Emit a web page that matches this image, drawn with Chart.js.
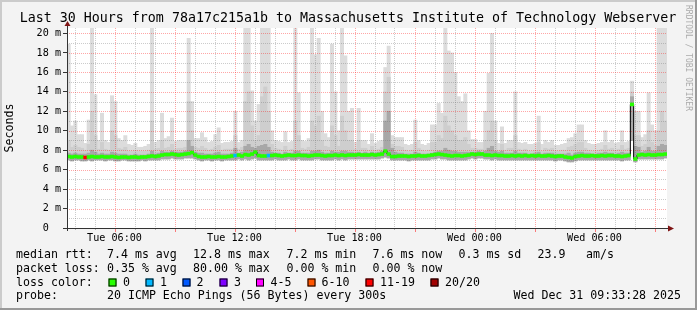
<!DOCTYPE html>
<html>
<head>
<meta charset="utf-8">
<title>Smokeping - 78a17c215a1b to MIT Webserver</title>
<script src="https://cdn.jsdelivr.net/npm/chart.js@4.4.1/dist/chart.umd.min.js"></script>
<style>
  html, body { margin: 0; padding: 0; background: #f3f3f3; }
  canvas { display: block; }
</style>
</head>
<body>
<canvas id="smoke" width="697" height="310"></canvas>
<script>
// Time window (hours since Tue 00:00), 10 minute slots
const X_START = 3.625;
const X_END = 33.625;
const Y_MAX = 20.56;

// Axis ticks
const xTickHours = [6, 12, 18, 24, 30];
const xTickLabels = ['Tue 06:00', 'Tue 12:00', 'Tue 18:00', 'Wed 00:00', 'Wed 06:00'];
const yTicks = [0, 2, 4, 6, 8, 10, 12, 14, 16, 18, 20];
const yTickLabels = ['0  ', '2 m', '4 m', '6 m', '8 m', '10 m', '12 m', '14 m', '16 m', '18 m', '20 m'];

// Median rtt per slot (ms)
const median = [
  7.35, 7.3, 7.35, 7.3, 7.3, 7.25, 7.3, 7.35, 7.3, 7.3,
  7.35, 7.3, 7.3, 7.35, 7.3, 7.25, 7.3, 7.3, 7.25, 7.3,
  7.3, 7.25, 7.3, 7.3, 7.35, 7.4, 7.35, 7.4, 7.5, 7.55,
  7.55, 7.6, 7.55, 7.5, 7.55, 7.6, 7.65, 7.75, 7.5, 7.35,
  7.3, 7.3, 7.35, 7.3, 7.3, 7.35, 7.3, 7.3, 7.35, 7.4,
  7.45, 7.5, 7.4, 7.55, 7.5, 7.6, 7.8, 7.45, 7.4, 7.4,
  7.45, 7.45, 7.5, 7.45, 7.4, 7.45, 7.5, 7.45, 7.45, 7.5,
  7.45, 7.45, 7.4, 7.45, 7.5, 7.5, 7.45, 7.4, 7.45, 7.45,
  7.5, 7.45, 7.5, 7.45, 7.5, 7.5, 7.5, 7.55, 7.5, 7.5,
  7.5, 7.55, 7.5, 7.55, 7.6, 7.9, 7.6, 7.35, 7.35, 7.4,
  7.4, 7.4, 7.35, 7.4, 7.4, 7.45, 7.4, 7.4, 7.45, 7.5,
  7.55, 7.6, 7.55, 7.5, 7.45, 7.4, 7.45, 7.45, 7.4, 7.45,
  7.5, 7.6, 7.55, 7.6, 7.6, 7.5, 7.5, 7.45, 7.5, 7.45,
  7.45, 7.4, 7.4, 7.45, 7.4, 7.45, 7.4, 7.45, 7.4, 7.45,
  7.4, 7.45, 7.4, 7.4, 7.45, 7.4, 7.35, 7.4, 7.4, 7.3,
  7.25, 7.2, 7.35, 7.4, 7.45, 7.4, 7.4, 7.45, 7.4, 7.4,
  7.45, 7.4, 7.45, 7.45, 7.4, 7.4, 7.35, 7.4, 7.45, 12.7,
  7.1, 7.5, 7.55, 7.5, 7.55, 7.5, 7.5, 7.55, 7.55, 7.6
];

// Smoke: lowest ping, inner (dark) band top, middle band top, highest ping (ms)
const smokeLo = [
  7.0, 6.9, 7.0, 7.0, 6.9, 6.9, 7.0, 6.9, 7.0, 7.0,
  7.0, 6.9, 7.0, 7.0, 6.9, 6.9, 7.0, 7.0, 6.9, 6.9,
  6.9, 6.9, 7.0, 6.9, 7.0, 7.0, 7.0, 7.0, 7.1, 7.1,
  7.1, 7.2, 7.1, 7.1, 7.1, 7.2, 7.2, 7.2, 7.1, 7.0,
  6.9, 7.0, 7.0, 6.9, 7.0, 7.0, 6.9, 7.0, 7.0, 7.0,
  7.0, 7.1, 7.0, 7.1, 7.0, 7.1, 7.2, 7.0, 7.0, 7.0,
  7.0, 7.0, 7.1, 7.0, 7.0, 7.0, 7.1, 7.0, 7.0, 7.1,
  7.0, 7.0, 7.0, 7.0, 7.1, 7.1, 7.0, 7.0, 7.0, 7.0,
  7.1, 7.0, 7.1, 7.0, 7.1, 7.1, 7.1, 7.1, 7.1, 7.1,
  7.1, 7.1, 7.1, 7.1, 7.2, 7.3, 7.2, 7.0, 7.0, 7.0,
  7.0, 7.0, 6.9, 7.0, 7.0, 7.0, 7.0, 7.0, 7.0, 7.1,
  7.1, 7.2, 7.1, 7.1, 7.0, 7.0, 7.0, 7.0, 7.0, 7.0,
  7.1, 7.2, 7.1, 7.2, 7.2, 7.1, 7.1, 7.0, 7.1, 7.0,
  7.0, 7.0, 7.0, 7.0, 7.0, 7.0, 7.0, 7.0, 7.0, 7.0,
  7.0, 7.0, 7.0, 7.0, 7.0, 7.0, 6.9, 7.0, 7.0, 6.9,
  6.8, 6.8, 6.9, 7.0, 7.0, 7.0, 7.0, 7.0, 7.0, 7.0,
  7.0, 7.0, 7.0, 7.0, 7.0, 7.0, 6.9, 7.0, 7.0, 9.0,
  6.8, 7.1, 7.1, 7.1, 7.1, 7.1, 7.1, 7.1, 7.1, 7.2
];

const smokeInner = [
  7.7, 7.6, 7.7, 7.6, 7.6, 7.6, 7.7, 8.0, 7.8, 7.6,
  7.7, 7.6, 7.6, 7.8, 7.7, 7.6, 7.6, 7.6, 7.5, 7.5,
  7.6, 7.5, 7.5, 7.5, 7.6, 7.9, 7.6, 7.7, 7.9, 7.8,
  7.8, 7.9, 7.8, 7.8, 7.8, 7.9, 9.0, 8.4, 7.8, 7.7,
  7.7, 7.6, 7.6, 7.6, 7.7, 7.8, 7.6, 7.6, 7.6, 7.7,
  8.2, 7.7, 7.8, 8.4, 8.6, 8.3, 8.2, 8.4, 8.5, 8.6,
  8.3, 7.8, 7.7, 7.7, 7.6, 7.8, 7.7, 7.7, 7.9, 7.9,
  7.7, 7.7, 7.7, 7.9, 7.9, 8.0, 7.8, 7.7, 7.7, 7.9,
  7.8, 7.8, 7.9, 7.9, 7.8, 7.8, 7.7, 7.8, 7.7, 7.8,
  7.7, 7.8, 7.7, 7.8, 7.9, 11.0, 12.0, 8.2, 7.8, 7.7,
  7.7, 7.6, 7.6, 7.6, 7.8, 7.7, 7.6, 7.6, 7.6, 7.7,
  7.8, 7.9, 7.9, 8.2, 8.0, 7.9, 7.9, 7.8, 7.8, 7.8,
  7.8, 7.8, 7.8, 7.9, 7.8, 7.9, 8.2, 8.4, 7.9, 7.8,
  7.9, 7.7, 7.7, 7.7, 7.9, 7.7, 7.7, 7.7, 7.6, 7.6,
  7.7, 7.8, 7.6, 7.7, 7.7, 7.7, 7.6, 7.6, 7.6, 7.6,
  7.7, 7.5, 7.7, 7.8, 7.8, 7.7, 7.7, 7.6, 7.6, 7.7,
  7.7, 7.8, 7.7, 7.7, 7.6, 7.7, 7.8, 7.7, 7.7, 13.5,
  8.4, 8.3, 7.8, 7.9, 8.3, 7.9, 7.9, 8.4, 8.6, 8.5
];

const smokeMid = [
  9.0, 8.3, 8.5, 8.3, 8.2, 8.0, 8.6, 12.0, 9.5, 8.1,
  8.8, 8.1, 8.0, 10.0, 9.5, 8.2, 8.1, 8.3, 7.9, 7.9,
  8.0, 7.9, 7.9, 7.9, 8.0, 11.0, 8.1, 8.2, 9.0, 8.2,
  8.3, 8.6, 8.1, 8.2, 8.2, 8.3, 13.0, 10.0, 8.3, 8.2,
  8.4, 8.2, 8.0, 8.1, 8.3, 8.5, 8.0, 8.1, 8.1, 8.1,
  9.5, 8.1, 8.3, 13.0, 14.0, 10.5, 9.0, 9.5, 13.5, 14.5,
  12.0, 8.6, 8.2, 8.1, 8.0, 8.4, 8.0, 8.1, 11.0, 9.5,
  8.2, 8.1, 8.3, 11.0, 10.5, 11.5, 9.0, 8.4, 8.3, 10.5,
  9.5, 8.4, 11.5, 10.0, 9.0, 9.0, 8.1, 9.0, 8.2, 8.2,
  8.0, 8.4, 8.0, 8.1, 8.3, 14.0, 15.5, 8.6, 8.4, 8.4,
  8.3, 8.0, 7.9, 8.0, 8.8, 8.2, 8.0, 7.9, 8.0, 8.8,
  8.8, 9.5, 9.2, 11.5, 10.5, 10.0, 9.5, 9.0, 9.0, 9.3,
  8.6, 8.2, 8.2, 8.1, 8.1, 9.0, 10.0, 11.0, 9.0, 8.0,
  8.6, 8.0, 8.2, 8.2, 9.5, 8.1, 8.0, 8.1, 7.9, 7.9,
  8.0, 8.8, 7.9, 8.2, 8.1, 8.2, 7.9, 7.9, 8.0, 8.0,
  8.3, 8.4, 8.6, 8.8, 8.8, 8.2, 8.0, 7.9, 7.9, 8.0,
  8.1, 8.5, 8.1, 8.2, 8.0, 8.1, 8.5, 8.1, 8.2, 14.0,
  9.5, 9.5, 8.4, 8.6, 10.0, 8.8, 8.5, 10.0, 12.0, 11.0
];

const smokeHi = [
  18.9, 10.5, 11.0, 9.6, 9.6, 8.7, 11.1, 22, 13.7, 9.0,
  11.8, 9.0, 8.8, 13.6, 13.0, 9.2, 9.0, 9.5, 8.6, 8.5,
  8.7, 8.3, 8.3, 8.4, 8.6, 22, 8.8, 9.0, 11.8, 9.2,
  9.4, 11.3, 8.9, 9.0, 9.0, 9.0, 19.5, 13.0, 9.2, 9.2,
  9.8, 9.3, 8.8, 8.9, 9.6, 10.3, 8.7, 8.8, 8.8, 8.9,
  12.0, 8.8, 9.0, 22, 22, 14.1, 11.0, 12.7, 22, 22,
  22, 10.0, 9.0, 8.9, 8.8, 9.9, 8.8, 8.9, 22, 13.9,
  9.0, 8.9, 9.2, 22, 17.8, 19.5, 12.0, 9.7, 9.3, 18.9,
  14.0, 10.0, 22, 17.7, 12.0, 12.3, 8.8, 12.3, 9.0, 9.0,
  8.6, 9.7, 8.7, 8.9, 9.0, 16.5, 18.7, 9.5, 9.3, 9.3,
  9.3, 8.6, 8.5, 8.6, 11.1, 9.0, 8.6, 8.5, 8.7, 10.6,
  10.6, 12.8, 11.8, 22, 18.2, 18.0, 16.0, 13.5, 13.0, 13.8,
  10.0, 9.1, 9.1, 8.8, 8.8, 12.0, 15.9, 20.0, 11.0, 8.7,
  10.4, 8.7, 9.0, 9.0, 14.0, 8.8, 8.7, 8.8, 8.6, 8.6,
  8.7, 11.5, 8.6, 9.0, 8.8, 9.0, 8.5, 8.5, 8.6, 8.7,
  9.2, 9.3, 9.7, 10.6, 10.6, 9.0, 8.7, 8.6, 8.6, 8.7,
  8.8, 10.0, 8.8, 9.0, 8.7, 8.8, 10.0, 8.8, 8.9, 15.1,
  12.0, 12.0, 9.3, 9.6, 13.9, 10.6, 10.0, 22, 22, 22
];

// Slots with packet loss (index, lost pings of 20)
const lossSlots = [5, 50, 60];
const lossCounts = [16, 1, 1];

// Loss colour legend
const lossLabels = ['0', '1', '2', '3', '4-5', '6-10', '11-19', '20/20'];
const lossColors = ['#26ff00', '#00b8ff', '#0059ff', '#7e00ff', '#ff00ff', '#ff5500', '#ff0000', '#a10000'];
const lossLimits = [0, 1, 2, 3, 5, 10, 19, 20];

const statsRtt = ['7.4 ms avg', '12.8 ms max', '7.2 ms min', '7.6 ms now', '0.3 ms sd', '23.9', 'am/s'];
const statsLoss = ['0.35 % avg', '80.00 % max', '0.00 % min', '0.00 % now'];
const probeText = '20 ICMP Echo Pings (56 Bytes) every 300s';
const stampText = 'Wed Dec 31 09:33:28 2025';
const titleText = 'Last 30 Hours from 78a17c215a1b to Massachusetts Institute of Technology Webserver';

const MONO = '"DejaVu Sans Mono", "Liberation Mono", monospace';

function lossColor(n) {
  for (let k = 0; k < lossLimits.length; k++) {
    if (n <= lossLimits[k]) return lossColors[k];
  }
  return lossColors[lossColors.length - 1];
}

const slotX = median.map((_, i) => X_START + (i + 0.5) / 6);
const slotLoss = median.map(() => 0);
lossSlots.forEach((s, k) => { slotLoss[s] = lossCounts[k]; });

function band(lo, hi) {
  return lo.map((v, i) => ({ x: slotX[i], y: [v, hi[i]] }));
}

function barSet(data, color, order) {
  return {
    type: 'bar', data, backgroundColor: color, order,
    grouped: false, barPercentage: 1, categoryPercentage: 1, borderWidth: 0
  };
}

function xPix(scale, h) { return Math.round(scale.getPixelForValue(h)) + 0.5; }
function yPix(scale, v) { return Math.round(scale.getPixelForValue(v)) + 0.5; }

// background, frame, grid, axes and legend texts
const rrdLook = {
  id: 'rrdLook',
  beforeDraw(chart) {
    const { ctx, chartArea: a, width, height } = chart;
    ctx.save();
    ctx.fillStyle = '#f3f3f3';
    ctx.fillRect(0, 0, width, height);
    ctx.fillStyle = '#cbcbcb';
    ctx.fillRect(0, 0, width, 2);
    ctx.fillRect(0, 0, 2, height);
    ctx.fillStyle = '#999999';
    ctx.fillRect(0, height - 2, width, 2);
    ctx.fillRect(width - 2, 0, 2, height);
    ctx.fillStyle = '#ffffff';
    ctx.fillRect(a.left, a.top, a.right - a.left, a.bottom - a.top);
    ctx.restore();
  },
  beforeDatasetDraw(chart, args) {
    if (args.index !== 1) return;
    const { ctx, chartArea: a } = chart;
    const xs = chart.scales.x, ys = chart.scales.y;
    ctx.save();
    ctx.lineWidth = 1;
    ctx.setLineDash([1, 1]);
    for (let h = Math.ceil(X_START); h <= X_END; h++) {
      const px = xPix(xs, h);
      ctx.strokeStyle = h % 3 === 0 ? 'rgba(255,0,0,0.35)' : 'rgba(110,110,110,0.35)';
      ctx.beginPath(); ctx.moveTo(px, a.top); ctx.lineTo(px, a.bottom); ctx.stroke();
    }
    for (let v = 1; v <= 20; v++) {
      const py = yPix(ys, v);
      ctx.strokeStyle = v % 2 === 0 ? 'rgba(255,0,0,0.35)' : 'rgba(110,110,110,0.35)';
      ctx.beginPath(); ctx.moveTo(a.left, py); ctx.lineTo(a.right, py); ctx.stroke();
    }
    ctx.restore();
  },
  afterDraw(chart) {
    const { ctx, chartArea: a } = chart;
    const xs = chart.scales.x;
    ctx.save();
    // small ticks under the time axis
    for (let h = Math.ceil(X_START); h <= X_END; h++) {
      const px = xPix(xs, h);
      ctx.strokeStyle = h % 3 === 0 ? 'rgba(255,0,0,0.5)' : 'rgba(110,110,110,0.5)';
      ctx.beginPath(); ctx.moveTo(px, a.bottom); ctx.lineTo(px, a.bottom + (h % 3 === 0 ? 4 : 2)); ctx.stroke();
    }
    // axes
    const ax = a.left + 0.5, ay = a.bottom + 0.5;
    ctx.strokeStyle = '#333333';
    ctx.lineWidth = 1;
    ctx.beginPath();
    ctx.moveTo(ax, a.bottom + 3); ctx.lineTo(ax, a.top - 3);
    ctx.moveTo(a.left - 4, ay); ctx.lineTo(a.right + 2, ay);
    ctx.stroke();
    ctx.fillStyle = '#7f1515';
    ctx.beginPath();
    ctx.moveTo(ax, a.top - 7); ctx.lineTo(ax - 3, a.top - 2); ctx.lineTo(ax + 3, a.top - 2); ctx.closePath();
    ctx.fill();
    ctx.beginPath();
    ctx.moveTo(a.right + 7, ay); ctx.lineTo(a.right + 1, ay - 3); ctx.lineTo(a.right + 1, ay + 3); ctx.closePath();
    ctx.fill();

    // title
    ctx.fillStyle = '#000';
    ctx.textBaseline = 'middle';
    ctx.textAlign = 'center';
    ctx.font = '13.3px ' + MONO;
    ctx.fillText(titleText, 348, 19);

    // y axis title
    ctx.font = '11.6px ' + MONO;
    ctx.save();
    ctx.translate(10, 128);
    ctx.rotate(-Math.PI / 2);
    ctx.fillText('Seconds', 0, 0);
    ctx.restore();

    // legend
    ctx.textAlign = 'left';
    const col = [107, 193, 286.5, 372.5, 458.5, 537.5, 586];
    ctx.fillText('median rtt:', 16, 255);
    statsRtt.forEach((t, k) => ctx.fillText(t, col[k], 255));
    ctx.fillText('packet loss:', 16, 268.5);
    statsLoss.forEach((t, k) => ctx.fillText(t, col[k], 268.5));
    ctx.fillText('loss color:', 16, 282.5);
    const boxX = [108.5, 145.5, 182.5, 219.5, 256, 307.5, 365.5, 430.5];
    const labX = [123, 160, 196.5, 234, 270.5, 321.5, 380, 445];
    lossLabels.forEach((t, k) => {
      ctx.fillStyle = lossColors[k];
      ctx.fillRect(boxX[k], 278.5, 8, 8);
      ctx.strokeStyle = '#000';
      ctx.strokeRect(boxX[k] + 0.5, 279, 7, 7);
      ctx.fillStyle = '#000';
      ctx.fillText(t, labX[k], 282.5);
    });
    ctx.fillText('probe:', 16, 296);
    ctx.fillText(probeText, 107, 296);
    ctx.textAlign = 'right';
    ctx.fillText(stampText, 681, 296);

    // watermark
    ctx.fillStyle = '#ababab';
    ctx.font = '8px ' + MONO;
    ctx.textAlign = 'left';
    ctx.translate(688, 5);
    ctx.rotate(Math.PI / 2);
    ctx.fillText('RRDTOOL / TOBI OETIKER', 0, 0);
    ctx.restore();
  }
};

const axisFont = { family: MONO, size: 10.15 };

new Chart(document.getElementById('smoke'), {
  type: 'bar',
  data: {
    datasets: [
      barSet(median.map((m, i) => ({ x: slotX[i], y: [m - 0.15, m + 0.15] })),
        slotLoss.map(lossColor), 0),
      {
        type: 'line',
        data: median.map((m, i) => ({ x: slotX[i], y: m })),
        borderColor: '#000000', borderWidth: 1, pointRadius: 0,
        stepped: 'middle', order: 1
      },
      barSet(band(smokeLo, smokeInner), '#a8a8a8', 2),
      barSet(band(smokeLo, smokeMid), '#cecece', 3),
      barSet(band(smokeLo, smokeHi), '#dcdcdc', 4)
    ]
  },
  options: {
    responsive: false,
    animation: false,
    devicePixelRatio: 1,
    layout: { padding: { left: 0, top: 28, right: 30, bottom: 62 } },
    plugins: { legend: { display: false }, tooltip: { enabled: false } },
    scales: {
      x: {
        type: 'linear', min: X_START, max: X_END, offset: false,
        grid: { display: false, drawTicks: false, offset: false },
        border: { display: false },
        ticks: {
          autoSkip: false, maxRotation: 0, padding: 4, color: '#000', font: axisFont,
          callback: (v, i) => xTickLabels[i]
        },
        afterBuildTicks: s => { s.ticks = xTickHours.map(v => ({ value: v })); },
        afterFit: s => { s.height = 20; }
      },
      y: {
        min: 0, max: Y_MAX,
        grid: { display: true, drawOnChartArea: false, drawTicks: true, tickLength: 4, tickColor: '#333333' },
        border: { display: false },
        ticks: {
          padding: 2, color: '#000', font: axisFont,
          callback: (v, i) => yTickLabels[i]
        },
        afterBuildTicks: s => { s.ticks = yTicks.map(v => ({ value: v })); },
        afterFit: s => { s.width = 67; }
      }
    }
  },
  plugins: [rrdLook]
});
</script>
</body>
</html>
